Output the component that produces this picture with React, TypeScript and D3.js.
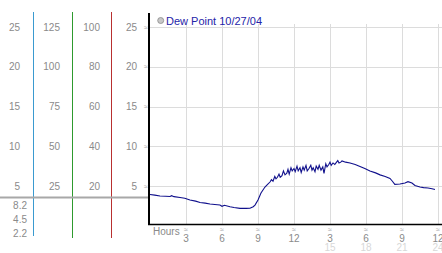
import React from "react";
import * as d3 from "d3";

const W = 442;
const H = 253;

// Left reference scales (values shown at gridline rows)
const colA = [25, 20, 15, 10, 5];
const colB = [125, 100, 75, 50, 25];
const colC = [100, 80, 60, 40, 20];
const colD = [25, 20, 15, 10, 5];
const lowerLabels = ["8.2", "4.5", "2.2"];
const currentLevel = 3.6;

// Hours axis
const hourTicks = [3, 6, 9, 12, 15, 18, 21, 24];
const hourLabels = ["3", "6", "9", "12", "3", "6", "9", "12"];
const hourLabels2 = ["", "", "", "", "15", "18", "21", "24"];

const yGrid = [5, 10, 15, 20, 25];

const title = "Dew Point 10/27/04";

// Dew point series: [hour, value]
const dewPoint: [number, number][] = [
  [0, 3.93], [0.4, 3.85], [0.83, 3.74], [1.3, 3.72], [1.67, 3.68], [1.8, 3.78], [2.0, 3.66],
  [2.5, 3.55], [2.9, 3.45], [3.33, 3.24], [3.8, 3.1], [4.17, 2.92], [4.6, 2.85],
  [5.0, 2.74], [5.4, 2.68], [5.83, 2.61], [6.0, 2.45], [6.2, 2.58], [6.67, 2.4],
  [7.0, 2.3], [7.5, 2.19], [8.0, 2.18], [8.33, 2.2], [8.6, 2.4], [8.75, 2.6],
  [9.0, 3.24], [9.25, 4.12], [9.58, 4.87], [9.8, 5.2],
  [10.0, 5.5], [10.12, 5.8], [10.25, 5.6], [10.4, 6.2], [10.5, 5.9], [10.62, 6.1],
  [10.75, 6.5], [10.85, 6.1], [11.0, 6.3], [11.12, 6.9], [11.25, 6.4], [11.4, 6.6],
  [11.5, 7.1], [11.6, 6.5], [11.75, 7.3], [11.85, 6.9], [12.0, 7.2], [12.1, 6.8],
  [12.25, 7.5], [12.35, 6.9], [12.5, 7.3], [12.6, 6.7], [12.75, 7.4], [12.85, 7.0],
  [13.0, 7.6], [13.1, 6.9], [13.25, 7.2], [13.4, 7.6], [13.5, 7.0], [13.6, 7.3],
  [13.75, 6.8], [13.85, 7.5], [14.0, 7.1], [14.1, 7.6], [14.25, 7.0], [14.4, 7.4],
  [14.5, 6.6], [14.65, 7.8], [14.75, 7.4], [14.9, 7.7], [15.0, 8.0], [15.1, 7.6],
  [15.25, 7.9], [15.4, 7.7], [15.5, 7.9], [15.65, 8.2], [15.75, 7.9], [15.9, 8.0],
  [16.0, 8.15], [16.3, 8.0], [16.67, 7.9], [17.1, 7.7], [17.5, 7.45], [17.9, 7.2],
  [18.33, 6.9], [18.8, 6.65], [19.17, 6.4], [19.6, 6.2], [20.0, 5.95], [20.2, 5.6],
  [20.4, 5.2], [20.83, 5.25], [21.25, 5.38], [21.5, 5.55], [21.83, 5.38], [22.08, 5.06],
  [22.5, 4.87], [22.8, 4.8], [23.17, 4.75], [23.5, 4.65], [23.75, 4.56],
];

const FONT = "'Liberation Sans', Arial, sans-serif";

export default function App() {
  const x = d3.scaleLinear().domain([0, 24]).range([150, 438]);
  const y = d3.scaleLinear().domain([5, 25]).range([186, 27]);
  const lowerY = d3.scalePoint<string>().domain(lowerLabels).range([205, 233]);

  const line = d3
    .line<[number, number]>()
    .x((d) => x(d[0]))
    .y((d) => y(d[1]));

  const plotLeft = 149;
  const plotBottom = 224.5;
  const labelColor = "#8a8a8a";

  return (
    <svg
      width={W}
      height={H}
      style={{ position: "absolute", left: 0, top: 0, background: "#fff" }}
      fontFamily={FONT}
    >
      <rect x={0} y={0} width={W} height={H} fill="#fff" />

      {/* grid */}
      {yGrid.map((v) => (
        <line key={"hg" + v} x1={plotLeft} x2={W} y1={Math.round(y(v)) + 0.5} y2={Math.round(y(v)) + 0.5} stroke="#dcdcdc" strokeWidth={1} />
      ))}
      {hourTicks.map((h) => (
        <line key={"vg" + h} x1={Math.round(x(h)) + 0.5} x2={Math.round(x(h)) + 0.5} y1={24} y2={plotBottom} stroke="#dcdcdc" strokeWidth={1} />
      ))}

      {/* left colored scale lines */}
      <line x1={33.5} x2={33.5} y1={12} y2={236} stroke="#3a9ad0" strokeWidth={1} />
      <line x1={72.5} x2={72.5} y1={12} y2={238} stroke="#2e9a2e" strokeWidth={1} />
      <line x1={111.5} x2={111.5} y1={12} y2={238} stroke="#b83030" strokeWidth={1} />

      {/* current level gray line */}
      <line x1={0} x2={plotLeft} y1={Math.round(y(currentLevel)) + 0.5} y2={Math.round(y(currentLevel)) + 0.5} stroke="#a8a8a8" strokeWidth={2} />

      {/* left labels */}
      {colA.map((v) => (
        <text key={"a" + v} x={20} y={y(v) + 3.5} textAnchor="end" fontSize={10} fill={labelColor}>{v}</text>
      ))}
      {colB.map((v) => (
        <text key={"b" + v} x={60} y={y(v / 5) + 3.5} textAnchor="end" fontSize={10} fill={labelColor}>{v}</text>
      ))}
      {colC.map((v) => (
        <text key={"c" + v} x={100} y={y(v / 4) + 3.5} textAnchor="end" fontSize={10} fill={labelColor}>{v}</text>
      ))}
      {colD.map((v) => (
        <g key={"d" + v}>
          <text x={137} y={y(v) + 3.5} textAnchor="end" fontSize={10} fill={labelColor}>{v}</text>
          <text x={146} y={y(v) + 2.5} textAnchor="middle" fontSize={7} fill="#999">≈</text>
        </g>
      ))}
      {lowerLabels.map((l) => (
        <text key={"l" + l} x={27} y={(lowerY(l) as number) + 3.5} textAnchor="end" fontSize={10} fill={labelColor}>{l}</text>
      ))}

      {/* axes */}
      <line x1={plotLeft} x2={plotLeft} y1={13} y2={plotBottom + 0.5} stroke="#000" strokeWidth={2} />
      <line x1={plotLeft - 1} x2={W} y1={plotBottom} y2={plotBottom} stroke="#000" strokeWidth={1.5} />

      {/* hours axis labels */}
      <text x={153} y={234.5} fontSize={10} fill={labelColor}>Hours</text>
      {hourTicks.map((h, i) => (
        <g key={"ht" + h}>
          <text x={x(h)} y={231.5} textAnchor="middle" fontSize={7} fill="#999">≈</text>
          <text x={x(h)} y={241.5} textAnchor="middle" fontSize={10} fill={labelColor}>{hourLabels[i]}</text>
          {hourLabels2[i] && (
            <text x={x(h)} y={251} textAnchor="middle" fontSize={10} fill="#d8d8d8">{hourLabels2[i]}</text>
          )}
        </g>
      ))}

      {/* legend / title */}
      <circle cx={160.7} cy={20.5} r={3} fill="#c8c8c8" stroke="#8a8a8a" strokeWidth={0.8} />
      <text x={166} y={24.5} fontSize={11} fill="#2424a8">{title}</text>

      {/* series */}
      <path d={line(dewPoint) || ""} fill="none" stroke="#10108c" strokeWidth={1.1} />
    </svg>
  );
}
